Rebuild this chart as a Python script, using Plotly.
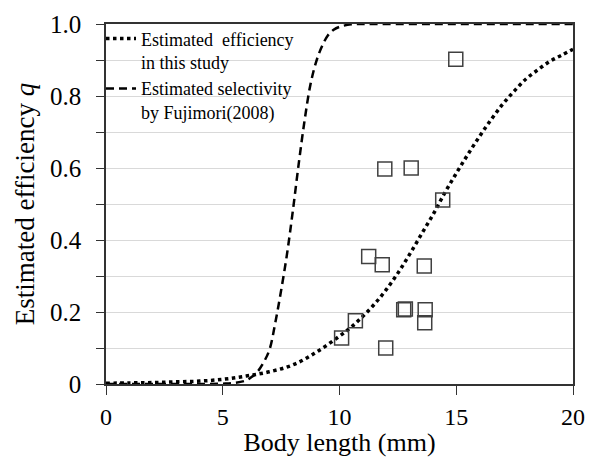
import plotly.graph_objects as go

# Observed data points (body length mm, efficiency q)
obs_length = [14.98, 11.94, 13.07, 14.42, 11.25, 11.83, 13.63, 12.75, 12.82, 13.67, 13.65, 10.68, 10.09, 11.98]
obs_q = [0.902, 0.597, 0.600, 0.511, 0.354, 0.331, 0.328, 0.206, 0.208, 0.206, 0.170, 0.176, 0.128, 0.100]

# Estimated efficiency curve (this study)
eff_x = [0, 1, 2, 3, 4, 5, 6, 7, 8, 9, 10, 10.5, 11, 11.5, 12, 12.5, 13, 13.5, 14, 14.5,
         15, 15.5, 16, 16.5, 17, 17.5, 18, 18.5, 19, 19.5, 20]
eff_q = [0.002, 0.003, 0.004, 0.006, 0.008, 0.013, 0.022, 0.034, 0.053, 0.088, 0.133, 0.158,
         0.188, 0.222, 0.262, 0.308, 0.360, 0.415, 0.470, 0.530, 0.585, 0.638, 0.688, 0.735,
         0.778, 0.815, 0.848, 0.873, 0.896, 0.913, 0.930]

# Estimated selectivity by Fujimori (2008)
sel_x = [0, 1, 2, 3, 4, 5, 5.5, 6, 6.25, 6.5, 6.75, 7, 7.25, 7.5, 7.75, 8, 8.25, 8.5, 8.75,
         9, 9.25, 9.5, 9.75, 10, 10.5, 11, 12, 14, 16, 18, 20]
sel_q = [0.0, 0.0, 0.0, 0.0, 0.0, 0.001, 0.003, 0.010, 0.020, 0.035, 0.060, 0.095, 0.170,
         0.260, 0.360, 0.480, 0.610, 0.730, 0.830, 0.895, 0.938, 0.968, 0.984, 0.992, 0.999,
         1.0, 1.0, 1.0, 1.0, 1.0, 1.0]

x_ticks = [0, 5, 10, 15, 20]
y_tickvals = [0, 0.2, 0.4, 0.6, 0.8, 1.0]
y_ticktext = ["0", "0.2", "0.4", "0.6", "0.8", "1.0"]

FONT = "Times New Roman, Liberation Serif, DejaVu Serif, serif"
AX = "#333333"

fig = go.Figure()
fig.add_trace(go.Scatter(
    x=eff_x, y=eff_q, mode="lines", name="Estimated  efficiency<br>in this study",
    line=dict(color="black", width=3.5, dash="dot", shape="spline"),
))
fig.add_trace(go.Scatter(
    x=sel_x, y=sel_q, mode="lines", name="Estimated selectivity<br>by Fujimori(2008)",
    line=dict(color="black", width=2.5, dash="8px,5px", shape="spline"),
))
fig.add_trace(go.Scatter(
    x=obs_length, y=obs_q, mode="markers", showlegend=False,
    marker=dict(symbol="square-open", size=14, color="#404040", line=dict(width=1.5, color="#404040")),
))

fig.update_layout(
    width=592, height=457,
    margin=dict(l=106, r=19, t=24, b=73),
    paper_bgcolor="white", plot_bgcolor="white",
    font=dict(family=FONT, color="black"),
    showlegend=True,
    legend=dict(
        x=-0.0107, y=1.01, xanchor="left", yanchor="top", valign="top",
        bgcolor="rgba(0,0,0,0)", font=dict(size=18, family=FONT),
        itemwidth=30, tracegroupgap=0,
    ),
    xaxis=dict(
        range=[0, 20], tickvals=x_ticks, ticks="outside", ticklen=9, tickwidth=1,
        tickcolor=AX, showline=True, linecolor=AX, linewidth=1.5, mirror=True,
        showgrid=False, zeroline=False, tickfont=dict(size=24, family=FONT),
        ticklabelstandoff=1, automargin=False,
        title=dict(text="Body length (mm)", font=dict(size=26, family=FONT), standoff=5),
    ),
    yaxis=dict(
        range=[0, 1.0], tickvals=y_tickvals, ticktext=y_ticktext, ticks="outside",
        ticklen=8, tickwidth=1, tickcolor=AX, showline=True, linecolor=AX, linewidth=1.5,
        mirror=True, showgrid=True, gridcolor="#d9d9d9", gridwidth=1, zeroline=False,
        tickfont=dict(size=25, family=FONT), ticklabelstandoff=10, automargin=False,
        minor=dict(dtick=0.1, tick0=0, ticks="outside", ticklen=8, tickcolor=AX,
                   showgrid=True, gridcolor="#d9d9d9", gridwidth=1),
        title=dict(text="Estimated efficiency <i>q</i>", font=dict(size=27, family=FONT), standoff=8),
    ),
)

fig.write_html("out.html")
